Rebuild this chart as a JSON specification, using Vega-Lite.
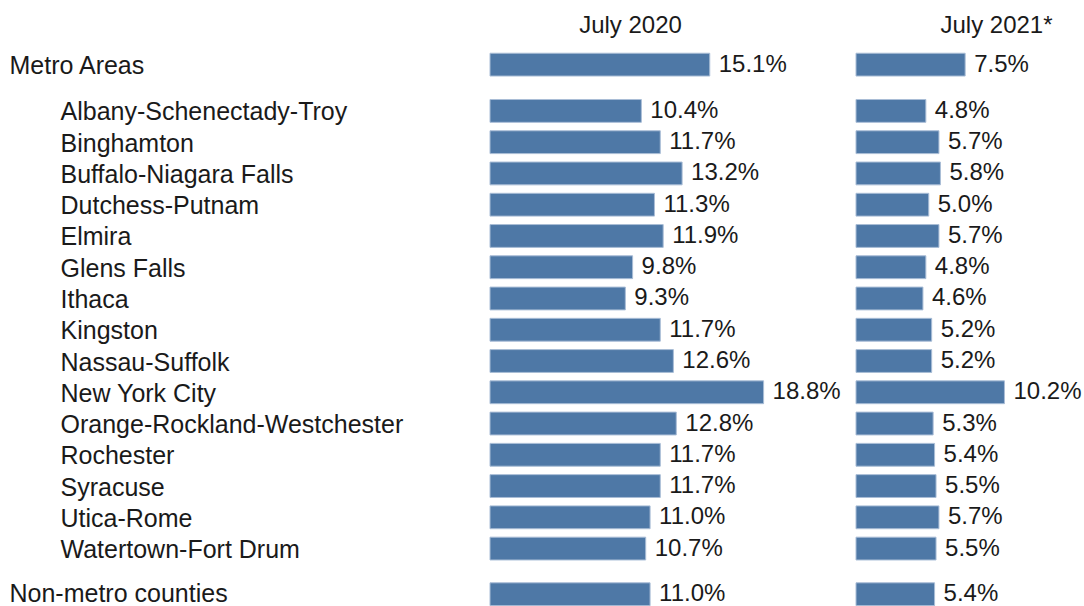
{
  "$schema": "https://vega.github.io/schema/vega-lite/v6.json",
  "padding": {"left": 9, "top": 13, "right": 0, "bottom": 0},
  "background": "white",
  "config": {
    "view": {"stroke": null},
    "font": "Liberation Sans",
    "text": {"font": "Liberation Sans", "fontSize": 24, "color": "#1a1a1a"}
  },
  "datasets": {
    "rows": [
      {"name": "Metro Areas", "section": "top", "v2020": 15.1, "v2021": 7.5},
      {"name": "Albany-Schenectady-Troy", "section": "metro", "v2020": 10.4, "v2021": 4.8},
      {"name": "Binghamton", "section": "metro", "v2020": 11.7, "v2021": 5.7},
      {"name": "Buffalo-Niagara Falls", "section": "metro", "v2020": 13.2, "v2021": 5.8},
      {"name": "Dutchess-Putnam", "section": "metro", "v2020": 11.3, "v2021": 5.0},
      {"name": "Elmira", "section": "metro", "v2020": 11.9, "v2021": 5.7},
      {"name": "Glens Falls", "section": "metro", "v2020": 9.8, "v2021": 4.8},
      {"name": "Ithaca", "section": "metro", "v2020": 9.3, "v2021": 4.6},
      {"name": "Kingston", "section": "metro", "v2020": 11.7, "v2021": 5.2},
      {"name": "Nassau-Suffolk", "section": "metro", "v2020": 12.6, "v2021": 5.2},
      {"name": "New York City", "section": "metro", "v2020": 18.8, "v2021": 10.2},
      {"name": "Orange-Rockland-Westchester", "section": "metro", "v2020": 12.8, "v2021": 5.3},
      {"name": "Rochester", "section": "metro", "v2020": 11.7, "v2021": 5.4},
      {"name": "Syracuse", "section": "metro", "v2020": 11.7, "v2021": 5.5},
      {"name": "Utica-Rome", "section": "metro", "v2020": 11.0, "v2021": 5.7},
      {"name": "Watertown-Fort Drum", "section": "metro", "v2020": 10.7, "v2021": 5.5},
      {"name": "Non-metro counties", "section": "bottom", "v2020": 11.0, "v2021": 5.4}
    ]
  },
  "columns": 2,
  "align": "each",
  "bounds": "flush",
  "spacing": {"row": 14.3, "column": 86},
  "concat": [
    {
      "data": {"name": "rows"},
      "transform": [{"filter": "datum.section == 'top'"}, {"calculate": "format(datum.v2020, '.1f') + '%'", "as": "label"}],
      "width": 280,
      "height": {"step": 31.26},
      "encoding": {
        "y": {"field": "name", "type": "nominal", "sort": null, "scale": {"paddingInner": 0.27, "paddingOuter": 0.135},
          "axis": {"title": null, "domain": false, "ticks": false, "tickSize": 0, "labelAlign": "left", "labelPadding": 481, "labelOffset": 1.5, "labelFontSize": 25, "labelFont": "Liberation Sans", "labelColor": "#1a1a1a", "labelLimit": 500}},
        "x": {"field": "v2020", "type": "quantitative", "scale": {"domain": [0, 19.24], "nice": false},
          "axis": {"orient": "top", "title": "July 2020", "labels": false, "ticks": false, "tickSize": 0, "domain": false, "grid": false, "titleFontSize": 24, "titleFontWeight": "normal", "titleFont": "Liberation Sans", "titleColor": "#1a1a1a", "titlePadding": 12}}
      },
      "layer": [
        {"mark": {"type": "bar", "fill": "#4e78a6", "stroke": "#a9bdd6", "strokeWidth": 1}},
        {"mark": {"type": "text", "align": "left", "baseline": "middle", "dx": 9}, "encoding": {"text": {"field": "label"}}}
      ]
    },
    {
      "data": {"name": "rows"},
      "transform": [{"filter": "datum.section == 'top'"}, {"calculate": "format(datum.v2021, '.1f') + '%'", "as": "label"}],
      "width": 280,
      "height": {"step": 31.26},
      "encoding": {
        "y": {"field": "name", "type": "nominal", "sort": null, "scale": {"paddingInner": 0.27, "paddingOuter": 0.135}, "axis": null},
        "x": {"field": "v2021", "type": "quantitative", "scale": {"domain": [0, 19.24], "nice": false},
          "axis": {"orient": "top", "title": "July 2021*", "labels": false, "ticks": false, "tickSize": 0, "domain": false, "grid": false, "titleFontSize": 24, "titleFontWeight": "normal", "titleFont": "Liberation Sans", "titleColor": "#1a1a1a", "titlePadding": 12}}
      },
      "layer": [
        {"mark": {"type": "bar", "fill": "#4e78a6", "stroke": "#a9bdd6", "strokeWidth": 1}},
        {"mark": {"type": "text", "align": "left", "baseline": "middle", "dx": 9}, "encoding": {"text": {"field": "label"}}}
      ]
    },
    {
      "data": {"name": "rows"},
      "transform": [{"filter": "datum.section == 'metro'"}, {"calculate": "format(datum.v2020, '.1f') + '%'", "as": "label"}],
      "width": 280,
      "height": {"step": 31.26},
      "encoding": {
        "y": {"field": "name", "type": "nominal", "sort": null, "scale": {"paddingInner": 0.27, "paddingOuter": 0.135},
          "axis": {"title": null, "domain": false, "ticks": false, "tickSize": 0, "labelAlign": "left", "labelPadding": 430, "labelOffset": 1.5, "labelFontSize": 25, "labelFont": "Liberation Sans", "labelColor": "#1a1a1a", "labelLimit": 500}},
        "x": {"field": "v2020", "type": "quantitative", "scale": {"domain": [0, 19.24], "nice": false}, "axis": null}
      },
      "layer": [
        {"mark": {"type": "bar", "fill": "#4e78a6", "stroke": "#a9bdd6", "strokeWidth": 1}},
        {"mark": {"type": "text", "align": "left", "baseline": "middle", "dx": 9}, "encoding": {"text": {"field": "label"}}}
      ]
    },
    {
      "data": {"name": "rows"},
      "transform": [{"filter": "datum.section == 'metro'"}, {"calculate": "format(datum.v2021, '.1f') + '%'", "as": "label"}],
      "width": 280,
      "height": {"step": 31.26},
      "encoding": {
        "y": {"field": "name", "type": "nominal", "sort": null, "scale": {"paddingInner": 0.27, "paddingOuter": 0.135}, "axis": null},
        "x": {"field": "v2021", "type": "quantitative", "scale": {"domain": [0, 19.24], "nice": false}, "axis": null}
      },
      "layer": [
        {"mark": {"type": "bar", "fill": "#4e78a6", "stroke": "#a9bdd6", "strokeWidth": 1}},
        {"mark": {"type": "text", "align": "left", "baseline": "middle", "dx": 9}, "encoding": {"text": {"field": "label"}}}
      ]
    },
    {
      "data": {"name": "rows"},
      "transform": [{"filter": "datum.section == 'bottom'"}, {"calculate": "format(datum.v2020, '.1f') + '%'", "as": "label"}],
      "width": 280,
      "height": {"step": 31.26},
      "encoding": {
        "y": {"field": "name", "type": "nominal", "sort": null, "scale": {"paddingInner": 0.27, "paddingOuter": 0.135},
          "axis": {"title": null, "domain": false, "ticks": false, "tickSize": 0, "labelAlign": "left", "labelPadding": 481, "labelOffset": 0, "labelFontSize": 25, "labelFont": "Liberation Sans", "labelColor": "#1a1a1a", "labelLimit": 500}},
        "x": {"field": "v2020", "type": "quantitative", "scale": {"domain": [0, 19.24], "nice": false}, "axis": null}
      },
      "layer": [
        {"mark": {"type": "bar", "fill": "#4e78a6", "stroke": "#a9bdd6", "strokeWidth": 1}},
        {"mark": {"type": "text", "align": "left", "baseline": "middle", "dx": 9}, "encoding": {"text": {"field": "label"}}}
      ]
    },
    {
      "data": {"name": "rows"},
      "transform": [{"filter": "datum.section == 'bottom'"}, {"calculate": "format(datum.v2021, '.1f') + '%'", "as": "label"}],
      "width": 280,
      "height": {"step": 31.26},
      "encoding": {
        "y": {"field": "name", "type": "nominal", "sort": null, "scale": {"paddingInner": 0.27, "paddingOuter": 0.135}, "axis": null},
        "x": {"field": "v2021", "type": "quantitative", "scale": {"domain": [0, 19.24], "nice": false}, "axis": null}
      },
      "layer": [
        {"mark": {"type": "bar", "fill": "#4e78a6", "stroke": "#a9bdd6", "strokeWidth": 1}},
        {"mark": {"type": "text", "align": "left", "baseline": "middle", "dx": 9}, "encoding": {"text": {"field": "label"}}}
      ]
    }
  ]
}
